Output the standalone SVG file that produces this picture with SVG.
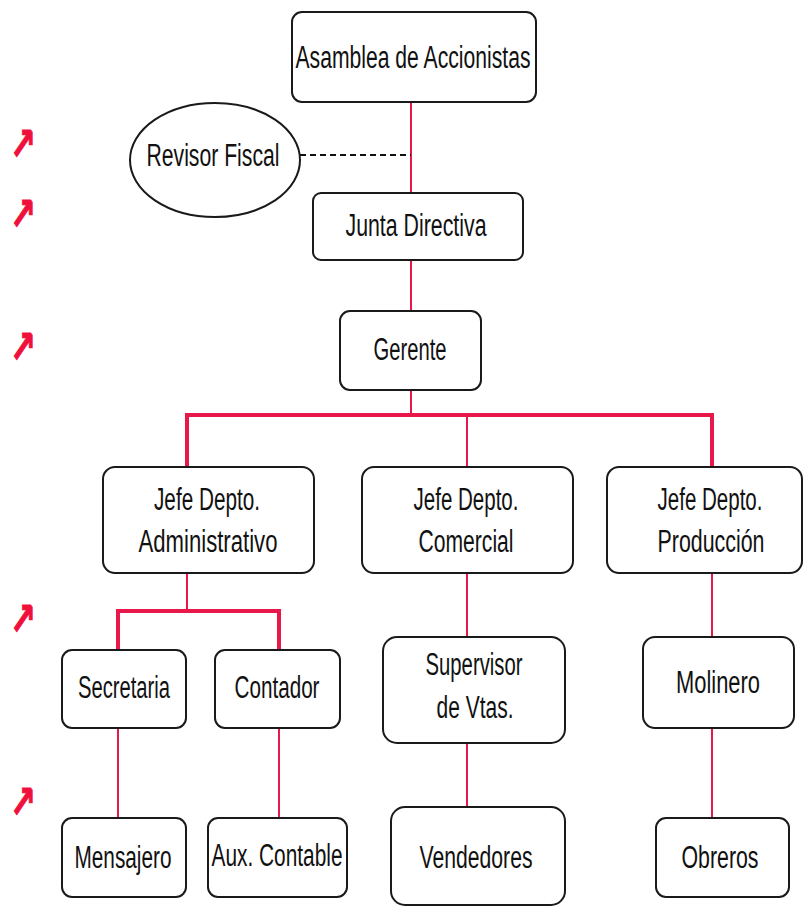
<svg xmlns="http://www.w3.org/2000/svg" width="806" height="907" viewBox="0 0 806 907">
  <style>
    .box { fill: #fff; stroke: #1a1a1a; stroke-width: 2; }
    .lbl { font-family: "Liberation Sans", Arial, sans-serif; font-size: 31px; fill: #111; text-anchor: middle; }
    .link { stroke: #e8184a; stroke-width: 2; fill: none; }
    .bar { stroke: #e8184a; stroke-width: 4; fill: none; }
    .dash { stroke: #111; stroke-width: 2; stroke-dasharray: 6 4; fill: none; }
    .mark { font-family: "DejaVu Sans", sans-serif; font-size: 46px; font-weight: bold; fill: #f0103c; stroke: #f0103c; stroke-width: 1; }
  </style>

  <!-- connectors -->
  <g id="connectors">
    <line class="link" x1="411" y1="102" x2="411" y2="193"/>
    <line class="dash" x1="300" y1="155" x2="411" y2="155"/>
    <line class="link" x1="411" y1="260" x2="411" y2="311"/>
    <line class="link" x1="411" y1="390" x2="411" y2="415"/>
    <polyline class="bar" points="187,467 187,415 712,415 712,467"/>
    <line class="link" x1="467" y1="415" x2="467" y2="467"/>
    <line class="link" x1="187" y1="573" x2="187" y2="611"/>
    <polyline class="bar" points="118,650 118,611 279,611 279,650"/>
    <line class="link" x1="467" y1="573" x2="467" y2="637"/>
    <line class="link" x1="712" y1="573" x2="712" y2="637"/>
    <line class="link" x1="118" y1="728" x2="118" y2="818"/>
    <line class="link" x1="279" y1="728" x2="279" y2="818"/>
    <line class="link" x1="467" y1="743" x2="467" y2="807"/>
    <line class="link" x1="712" y1="728" x2="712" y2="818"/>
  </g>

  <!-- level markers -->
  <g id="markers">
    <text class="mark" x="10" y="160" textLength="26" lengthAdjust="spacingAndGlyphs">↗</text>
    <text class="mark" x="10" y="230" textLength="26" lengthAdjust="spacingAndGlyphs">↗</text>
    <text class="mark" x="10" y="363" textLength="26" lengthAdjust="spacingAndGlyphs">↗</text>
    <text class="mark" x="10" y="635" textLength="26" lengthAdjust="spacingAndGlyphs">↗</text>
    <text class="mark" x="10" y="818" textLength="26" lengthAdjust="spacingAndGlyphs">↗</text>
  </g>

  <g id="asamblea">
    <rect class="box" x="292" y="12" width="244" height="90" rx="10"/>
    <text class="lbl" x="413" y="68" textLength="235" lengthAdjust="spacingAndGlyphs">Asamblea de Accionistas</text>
  </g>

  <g id="revisor">
    <ellipse class="box" cx="215" cy="160" rx="85" ry="57"/>
    <text class="lbl" x="213" y="166" textLength="133" lengthAdjust="spacingAndGlyphs">Revisor Fiscal</text>
  </g>

  <g id="junta">
    <rect class="box" x="313" y="193" width="210" height="67" rx="8"/>
    <text class="lbl" x="416" y="236" textLength="141" lengthAdjust="spacingAndGlyphs">Junta Directiva</text>
  </g>

  <g id="gerente">
    <rect class="box" x="340" y="311" width="141" height="79" rx="10"/>
    <text class="lbl" x="410" y="360" textLength="73" lengthAdjust="spacingAndGlyphs">Gerente</text>
  </g>

  <g id="jefe-admin">
    <rect class="box" x="103" y="467" width="211" height="106" rx="12"/>
    <text class="lbl" x="207" y="510" textLength="106" lengthAdjust="spacingAndGlyphs">Jefe Depto.</text>
    <text class="lbl" x="208" y="552" textLength="139" lengthAdjust="spacingAndGlyphs">Administrativo</text>
  </g>

  <g id="jefe-comercial">
    <rect class="box" x="362" y="467" width="211" height="106" rx="12"/>
    <text class="lbl" x="466" y="510" textLength="105" lengthAdjust="spacingAndGlyphs">Jefe Depto.</text>
    <text class="lbl" x="466" y="552" textLength="95" lengthAdjust="spacingAndGlyphs">Comercial</text>
  </g>

  <g id="jefe-produccion">
    <rect class="box" x="607" y="467" width="195" height="106" rx="12"/>
    <text class="lbl" x="710" y="510" textLength="105" lengthAdjust="spacingAndGlyphs">Jefe Depto.</text>
    <text class="lbl" x="711" y="552" textLength="107" lengthAdjust="spacingAndGlyphs">Producción</text>
  </g>

  <g id="secretaria">
    <rect class="box" x="62" y="650" width="124" height="78" rx="10"/>
    <text class="lbl" x="124" y="698" textLength="92" lengthAdjust="spacingAndGlyphs">Secretaria</text>
  </g>

  <g id="contador">
    <rect class="box" x="215" y="650" width="125" height="78" rx="10"/>
    <text class="lbl" x="277" y="698" textLength="85" lengthAdjust="spacingAndGlyphs">Contador</text>
  </g>

  <g id="supervisor">
    <rect class="box" x="383" y="637" width="182" height="106" rx="14"/>
    <text class="lbl" x="474" y="675" textLength="97" lengthAdjust="spacingAndGlyphs">Supervisor</text>
    <text class="lbl" x="475" y="718" textLength="77" lengthAdjust="spacingAndGlyphs">de Vtas.</text>
  </g>

  <g id="molinero">
    <rect class="box" x="643" y="637" width="151" height="91" rx="12"/>
    <text class="lbl" x="718" y="693" textLength="84" lengthAdjust="spacingAndGlyphs">Molinero</text>
  </g>

  <g id="mensajero">
    <rect class="box" x="62" y="818" width="124" height="79" rx="10"/>
    <text class="lbl" x="123" y="868" textLength="97" lengthAdjust="spacingAndGlyphs">Mensajero</text>
  </g>

  <g id="aux-contable">
    <rect class="box" x="208" y="818" width="139" height="79" rx="10"/>
    <text class="lbl" x="277" y="866" textLength="131" lengthAdjust="spacingAndGlyphs">Aux. Contable</text>
  </g>

  <g id="vendedores">
    <rect class="box" x="391" y="807" width="174" height="98" rx="14"/>
    <text class="lbl" x="476" y="868" textLength="113" lengthAdjust="spacingAndGlyphs">Vendedores</text>
  </g>

  <g id="obreros">
    <rect class="box" x="656" y="818" width="133" height="79" rx="10"/>
    <text class="lbl" x="720" y="868" textLength="77" lengthAdjust="spacingAndGlyphs">Obreros</text>
  </g>
</svg>
